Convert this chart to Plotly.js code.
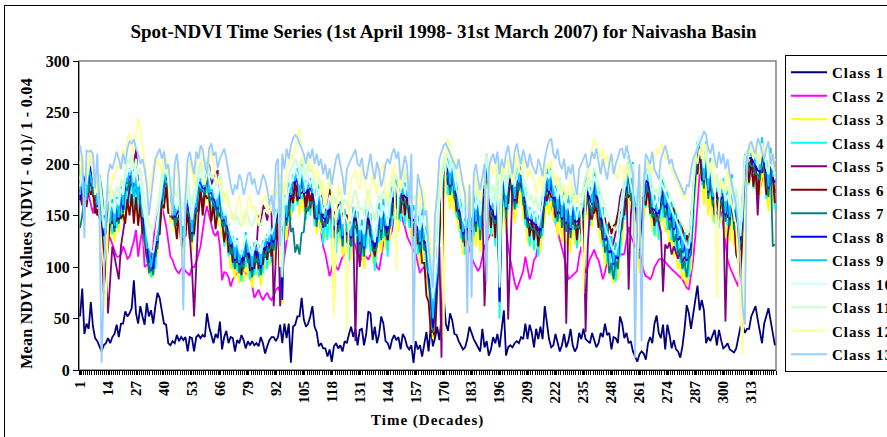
<!DOCTYPE html>
<html><head><meta charset="utf-8">
<script src="https://cdn.plot.ly/plotly-3.0.1.min.js"></script>
<style>
html,body{margin:0;padding:0;background:#fff;overflow:hidden;}
#wrap{position:relative;width:887px;height:437px;overflow:hidden;}
#chart{position:absolute;left:0;top:0;width:887px;height:437px;}
#frame{position:absolute;left:4px;top:5px;width:1000px;height:1000px;border:1px solid #000;pointer-events:none;}
.legendtext{letter-spacing:1px;}
</style></head>
<body><div id="wrap"><div id="chart"></div><div id="frame"></div></div>
<script>
const seriesNames = ['Class 1','Class 2','Class 3','Class 4','Class 5','Class 6','Class 7','Class 8','Class 9','Class 10','Class 11','Class 12','Class 13'];
const seriesColors = ['#000080','#FF00FF','#FFFF00','#00FFFF','#800080','#800000','#008080','#0000FF','#00CCFF','#CCFFFF','#CCFFCC','#FFFF99','#99CCFF'];
const tickLabels = ['1','14','27','40','53','66','79','92','105','118','131','144','157','170','183','196','209','222','235','248','261','274','287','300','313'];

const class1 = [
52,79,35,45,40,66,42,31,28,23,18,24,26,31,26,32,35,44,
32,45,45,57,52,55,60,87,55,45,62,52,44,65,52,58,45,62,
75,70,58,45,44,26,24,28,26,34,28,32,29,32,18,32,31,18,
32,34,31,34,32,55,42,35,26,35,31,47,20,32,38,26,32,31,
18,29,26,34,29,21,28,24,28,24,26,23,32,26,16,23,29,32,
32,28,32,44,26,45,31,45,7,42,44,52,52,70,49,42,45,52,
62,42,37,23,26,21,21,13,20,8,23,26,21,24,18,28,26,35,
42,32,40,24,39,40,24,35,57,55,29,42,26,35,52,45,28,26,
20,29,34,29,32,20,35,31,23,20,24,7,28,20,24,13,26,37,
18,42,23,31,42,29,50,72,45,38,55,48,35,34,28,24,20,22,
30,42,35,30,26,22,18,40,22,28,14,20,32,26,35,22,40,58,
14,22,24,22,26,28,26,32,30,45,30,44,36,22,40,30,42,30,
62,45,30,22,24,35,26,18,24,35,22,28,40,24,18,22,36,30,
40,30,28,26,36,30,22,26,36,32,45,34,36,20,32,31,26,52,
45,31,36,26,28,18,13,8,15,18,16,10,26,32,26,45,53,36,
31,44,20,44,34,21,29,20,18,12,23,40,63,55,40,52,68,82,
58,68,58,26,32,28,34,39,24,39,29,21,23,26,20,18,17,21,
32,42,44,36,40,40,52,58,62,49,36,26,45,52,60,48,35,24];

const class2 = [
175,170,168,176,170,160,152,165,170,168,160,150,140,135,128,122,115,110,
110,112,120,115,108,110,118,125,136,110,125,136,100,102,104,108,120,145,
155,165,160,150,140,125,110,107,100,96,94,98,100,96,94,92,100,100,
105,112,120,135,150,159,150,140,133,130,135,120,87,95,94,90,81,88,
91,95,98,100,96,94,92,94,82,70,74,78,72,68,72,75,70,68,
72,78,80,76,95,113,125,136,150,162,170,178,184,176,170,165,172,168,
170,165,159,150,135,120,113,100,91,98,107,100,97,104,110,112,118,125,
133,128,120,112,104,110,113,110,107,112,117,108,100,97,110,123,128,130,
130,135,150,170,181,160,145,139,130,125,120,116,113,104,94,98,100,92,
85,78,32,60,110,146,165,175,188,180,170,176,168,160,150,145,140,133,
125,118,110,104,100,96,100,110,120,124,128,133,130,135,139,145,150,162,
140,120,107,95,85,78,84,91,96,110,100,88,95,107,110,130,150,165,
165,170,168,160,150,142,135,128,120,110,100,88,90,92,94,96,110,120,
105,94,100,108,112,117,110,107,98,88,95,105,120,115,108,110,112,113,
112,113,125,139,130,124,120,122,118,105,96,91,90,88,92,100,104,107,
108,107,105,102,100,98,96,94,92,91,88,84,80,78,95,107,130,160,
190,205,200,180,172,165,160,156,152,150,154,140,125,107,100,95,90,85,
81,120,170,190,200,195,190,185,195,180,175,185,190,180,176,178,172,170];

const class3 = [
185,200,170,166,194,196,164,156,159,146,124,116,114,151,129,146,124,154,
134,161,144,171,169,178,176,168,170,164,160,148,120,116,92,100,90,112,
112,146,152,176,170,170,142,162,134,138,140,132,106,140,144,138,116,142,
144,170,166,164,160,182,156,158,152,146,140,162,128,130,122,118,98,104,
88,104,84,94,86,106,90,96,80,98,92,98,82,102,98,106,102,110,
104,126,130,156,64,146,126,154,148,166,164,170,150,178,154,156,158,162,
154,152,132,156,134,132,128,136,138,140,52,126,124,140,110,130,114,114,
108,130,126,126,102,118,98,128,126,124,104,104,110,134,114,138,118,118,
126,148,148,156,134,153,150,150,146,146,126,128,122,120,102,128,104,106,
70,62,30,56,70,136,144,172,170,176,156,178,152,152,134,136,112,118,
114,136,112,138,120,146,114,154,154,184,146,136,134,126,159,52,144,168,
134,162,164,168,142,164,160,180,146,146,124,126,122,122,120,116,114,136,
146,166,150,170,144,148,130,154,124,146,120,138,114,142,122,124,124,130,
134,156,150,146,139,164,146,146,124,124,102,108,92,98,84,94,88,116,
124,152,154,178,150,172,134,136,94,146,146,164,160,156,134,136,130,132,
144,152,134,140,122,128,110,116,98,104,88,96,82,92,98,144,170,196,
194,186,160,196,150,176,144,148,150,144,144,152,128,146,124,158,120,144,
114,106,124,182,180,186,184,182,176,174,170,198,178,172,154,186,164,162];

const class4 = [
168,160,194,162,186,176,184,152,166,156,150,110,140,146,148,132,142,138,
150,146,160,156,186,162,192,150,186,148,176,132,138,104,110,90,104,98,
130,132,170,164,190,156,160,150,152,128,160,120,130,130,166,126,136,130,
162,156,186,150,180,172,176,146,170,136,160,152,150,120,146,110,124,100,
110,96,106,86,110,100,116,88,101,92,116,90,103,94,121,98,126,104,
128,118,156,146,76,136,150,144,172,154,186,160,170,166,176,146,180,150,
176,140,150,146,156,122,150,126,160,128,140,114,146,128,132,118,136,106,
132,120,150,116,126,110,122,118,150,114,128,96,132,124,138,128,142,110,
150,140,172,146,158,144,175,140,170,138,150,120,146,112,126,118,128,98,
96,50,45,44,92,130,172,166,196,170,182,172,178,148,158,128,136,112,
140,128,138,130,146,140,140,150,180,178,172,130,160,120,185,50,170,160,
160,156,190,162,168,158,186,174,172,140,150,120,148,116,146,110,140,130,
172,160,176,164,170,142,156,148,150,140,146,132,140,136,148,118,150,124,
160,150,176,140,165,158,172,140,150,120,130,104,118,92,106,86,112,110,
150,146,180,172,176,166,160,130,120,140,172,158,186,150,160,130,156,126,
172,148,162,136,150,126,140,116,130,104,118,96,110,90,126,140,196,190,
220,180,186,190,176,170,170,142,176,138,170,146,154,140,150,152,146,138,
140,100,150,176,206,180,210,176,202,168,196,192,204,166,180,180,190,156];

const class5 = [
170,160,175,165,178,182,170,158,150,160,140,110,95,55,90,120,110,100,
88,120,135,150,165,175,190,200,215,180,160,140,125,110,100,96,105,115,
130,150,165,178,185,170,155,160,145,140,150,130,120,140,158,130,100,52,
110,150,172,160,175,195,200,180,185,190,194,170,150,140,150,132,128,120,
112,118,108,104,112,122,118,108,102,110,118,150,140,160,155,145,158,150,
62,110,150,62,100,150,145,160,168,170,180,176,168,185,172,162,176,166,
172,158,148,162,152,138,146,142,156,146,136,132,142,146,128,136,132,122,
128,138,28,130,100,126,118,136,146,132,124,110,128,142,134,146,138,126,
146,156,168,164,154,160,170,158,166,154,146,136,142,128,122,136,124,114,
90,64,40,56,88,120,12,170,192,186,178,188,174,160,154,144,132,126,
136,146,134,148,142,156,136,164,62,120,170,146,156,136,180,140,160,172,
170,49,120,178,164,174,182,190,168,156,146,136,144,132,142,126,136,146,
168,176,172,180,166,158,152,164,146,156,45,148,136,152,144,134,146,140,
156,37,120,156,146,160,170,160,150,140,132,126,130,118,124,134,152,168,
176,168,182,78,150,172,166,146,116,156,168,174,182,166,156,146,152,142,
134,76,122,118,124,112,120,114,108,116,104,110,106,122,146,176,192,206,
216,196,182,206,172,186,166,158,172,154,166,162,47,130,146,168,142,154,
136,116,146,192,202,196,206,192,198,150,192,208,200,182,176,196,186,172];

const class6 = [
175,164,186,158,178,170,176,152,156,148,136,74,101,120,146,142,151,144,
154,147,151,142,166,150,171,142,168,140,161,132,136,110,118,102,114,110,
131,132,161,157,178,152,154,147,146,127,151,122,128,130,156,127,134,132,
156,154,176,150,171,167,168,144,161,137,154,150,146,124,142,114,124,104,
114,104,110,92,114,110,120,96,106,98,118,98,108,102,124,107,126,110,
130,127,156,152,91,142,151,150,171,162,184,164,171,172,174,152,178,157,
174,147,156,152,171,150,156,154,176,148,154,142,161,152,152,142,151,128,
144,138,158,132,136,124,132,134,156,130,136,112,140,138,146,142,150,126,
156,150,174,157,162,152,176,150,171,147,154,130,150,122,128,104,104,72,
66,37,38,32,76,132,171,174,201,180,186,180,181,154,161,137,141,120,
141,137,140,140,148,147,142,154,181,184,174,138,162,128,184,67,171,168,
161,162,188,168,168,162,184,178,172,147,151,130,150,126,148,120,142,138,
171,164,174,168,168,148,156,152,151,147,146,138,142,142,148,126,151,132,
160,154,174,146,156,152,160,138,146,126,148,128,144,132,140,142,152,152,
156,150,174,168,170,162,156,134,126,142,166,160,178,152,156,140,164,162,
181,160,171,152,162,142,158,138,146,137,141,120,131,122,151,162,196,190,
216,184,186,192,176,176,170,150,176,146,170,152,156,148,152,157,146,112,
106,90,136,174,201,182,206,178,198,170,192,192,200,170,178,182,188,162];

const class7 = [
138,150,168,192,172,196,170,176,164,190,176,158,134,166,144,154,134,158,
142,168,152,178,174,184,180,176,174,168,164,154,124,120,94,104,92,118,
118,156,160,184,180,178,148,172,140,148,146,142,118,152,154,148,124,152,
152,178,174,174,170,194,164,168,160,158,148,174,139,144,134,132,112,120,
98,118,94,104,98,122,104,108,90,112,104,110,92,114,109,120,114,124,
116,142,144,170,114,158,140,166,134,138,114,122,112,133,134,158,154,163,
162,162,139,168,144,144,139,148,148,152,128,138,134,153,120,142,124,128,
120,144,138,140,114,132,110,142,138,138,116,116,120,148,126,152,130,132,
138,162,160,170,146,167,162,164,158,160,138,142,134,134,114,142,116,120,
84,74,36,64,82,154,162,188,184,192,170,194,166,168,146,150,124,132,
126,150,124,154,134,162,126,170,170,202,160,150,148,142,174,78,158,184,
148,178,178,184,156,180,174,196,160,162,138,142,136,138,134,132,128,152,
160,186,179,188,158,164,144,170,138,162,134,154,128,158,136,140,138,146,
146,170,162,160,150,178,158,160,136,138,114,122,94,104,88,106,98,132,
138,168,168,194,164,188,148,152,108,162,160,180,174,172,148,152,144,148,
160,168,148,156,136,144,124,132,112,118,98,106,90,108,112,158,184,212,
208,204,176,214,166,194,160,166,166,162,160,170,144,164,140,176,136,162,
128,122,138,198,194,202,198,198,190,190,184,214,192,188,168,202,120,122];

const class8 = [
165,184,188,180,182,200,178,176,158,180,146,130,134,168,144,158,138,162,
146,172,156,182,182,188,188,178,182,174,172,158,134,128,104,110,98,122,
124,158,166,188,186,182,156,176,148,152,156,146,126,156,162,152,132,156,
158,182,182,176,176,198,172,172,166,162,156,178,146,146,142,136,120,124,
106,122,102,108,106,127,112,112,97,116,112,114,99,118,117,124,122,128,
124,146,152,174,68,164,146,172,168,182,182,186,166,194,172,172,176,176,
172,166,146,172,152,148,146,152,156,156,136,142,142,156,128,146,132,132,
128,148,146,144,122,136,118,146,146,142,124,120,128,152,134,156,138,136,
146,166,168,174,154,171,171,168,166,164,146,146,142,138,122,146,124,124,
92,76,41,66,88,156,168,192,192,196,178,198,174,171,154,154,132,136,
136,156,134,158,142,166,136,174,176,204,168,156,156,146,181,66,166,188,
156,182,186,188,164,184,182,200,168,166,146,146,144,142,142,136,136,156,
168,186,172,190,166,168,152,174,146,166,142,158,136,162,144,144,146,150,
156,176,172,166,161,184,168,166,146,146,126,128,114,116,102,110,108,136,
146,172,176,198,172,192,156,156,116,166,168,184,182,176,156,156,152,152,
168,174,158,162,146,152,136,142,126,130,114,120,106,114,122,166,192,216,
216,206,182,216,172,196,166,168,172,164,166,172,150,166,146,178,142,164,
136,126,146,202,202,206,206,202,198,194,192,218,200,192,176,206,186,182];

const class9 = [
170,190,180,165,196,186,178,182,160,188,148,138,132,175,142,166,140,168,
148,178,160,188,182,196,188,168,190,165,186,150,148,118,120,100,112,126,
126,162,168,192,182,184,158,178,150,160,156,150,128,162,164,158,134,160,
158,188,184,180,178,202,172,178,168,168,158,184,146,152,142,142,122,130,
108,128,104,116,110,134,114,120,100,124,116,122,102,126,120,132,124,138,
126,156,152,180,90,170,148,182,170,190,184,196,168,200,172,184,176,186,
172,176,148,180,152,160,148,162,158,166,140,150,146,164,130,156,134,144,
130,158,148,154,124,146,120,156,148,152,126,130,130,162,136,166,140,148,
148,178,168,186,154,180,170,182,168,176,148,160,140,150,124,158,126,140,
96,88,50,80,96,168,168,200,192,206,180,204,174,182,156,166,134,148,
138,168,136,170,144,178,136,184,176,210,168,166,156,158,184,84,168,198,
158,192,186,198,166,196,182,208,168,178,148,158,146,154,142,150,138,168,
170,196,174,200,168,180,154,186,148,178,144,170,138,174,146,158,148,162,
158,188,174,178,162,196,170,178,148,158,128,142,116,130,104,124,110,150,
148,184,178,208,172,202,158,170,118,180,170,196,184,190,158,170,154,166,
170,186,160,174,148,164,138,156,128,144,116,134,108,128,124,180,194,222,
218,214,184,222,174,206,168,180,174,176,168,186,152,178,148,190,144,176,
138,140,148,210,204,216,208,212,200,206,194,226,202,204,178,216,188,190];

const class10 = [
178,188,200,185,194,204,190,180,172,184,160,138,150,172,158,162,152,166,
160,176,170,186,196,192,200,182,196,178,186,162,148,132,120,116,114,128,
140,162,180,192,198,186,170,180,162,156,170,150,140,160,176,156,146,160,
172,186,196,180,190,200,186,176,180,166,170,182,160,150,156,140,134,128,
120,126,116,112,120,131,126,116,111,120,126,118,113,122,131,128,136,132,
138,150,166,178,90,168,160,176,182,186,196,190,180,198,186,176,190,180,
186,170,160,176,166,152,160,156,170,160,150,146,156,160,142,150,146,136,
142,152,160,148,136,140,132,150,160,146,138,124,142,156,148,160,152,140,
160,170,182,178,168,175,185,172,180,168,160,150,156,142,136,150,138,128,
110,90,70,85,110,162,182,196,206,200,192,202,188,175,168,158,146,140,
150,160,148,162,156,170,150,178,190,206,182,160,170,150,194,80,180,192,
170,186,200,192,178,188,196,204,182,170,160,150,158,146,156,140,150,160,
182,190,186,194,180,172,166,178,160,170,156,162,150,166,158,148,160,154,
170,180,186,170,175,188,182,170,160,150,140,132,128,120,116,114,122,140,
160,176,190,200,186,196,170,160,130,170,182,188,196,180,170,160,166,156,
182,178,172,166,160,156,150,146,140,134,128,124,120,118,136,170,206,220,
228,210,196,220,186,200,180,172,186,168,180,176,164,170,160,182,156,168,
150,130,160,205,214,210,218,206,212,198,206,220,214,196,190,210,200,186];

const class11 = [
185,195,200,190,198,205,196,185,180,190,170,150,160,180,170,175,165,178,
170,185,180,195,205,200,210,195,205,190,196,178,165,150,140,138,135,148,
155,175,190,198,205,195,180,188,172,168,180,165,155,170,185,170,160,172,
182,195,202,190,198,206,195,186,190,178,182,192,175,168,172,160,155,150,
145,150,142,140,146,155,150,142,140,146,152,145,140,148,156,152,160,156,
160,170,180,190,140,182,176,188,195,198,205,200,192,206,196,188,200,192,
196,182,175,188,180,168,175,170,182,175,168,162,170,175,160,166,162,155,
158,168,175,165,155,158,150,165,175,162,155,145,158,170,165,175,168,158,
175,182,192,188,180,186,195,184,190,180,172,165,170,158,150,162,152,145,
130,110,100,120,140,178,192,205,212,208,200,208,196,185,178,170,160,155,
162,172,160,174,168,180,165,186,196,210,190,172,180,165,200,120,188,198,
180,195,206,200,188,196,202,208,190,180,172,165,170,160,168,155,165,172,
190,198,195,200,188,182,176,186,172,180,168,174,165,178,170,162,172,168,
180,188,195,180,185,196,190,180,172,165,158,150,146,140,138,136,142,158,
175,186,198,206,192,200,180,172,150,178,190,196,202,188,180,172,176,168,
190,186,180,175,170,166,160,156,150,146,140,136,135,134,150,180,206,215,
224,210,198,218,190,202,186,180,190,176,186,182,172,178,168,186,165,176,
160,145,168,206,214,210,218,206,212,200,206,218,212,198,192,210,200,190];

const class12 = [
200,210,195,180,205,215,190,170,185,150,120,100,60,140,170,190,185,200,
195,205,215,200,225,230,215,210,230,245,235,220,205,190,170,185,200,195,
205,200,190,215,205,185,150,170,200,195,175,120,100,160,190,205,195,180,
200,210,215,195,180,190,205,215,200,190,180,185,170,160,175,165,150,145,
150,160,170,155,140,150,165,170,155,160,150,140,155,165,170,160,150,165,
175,185,190,100,180,170,195,200,210,205,215,225,235,215,200,205,210,195,
200,185,195,190,170,185,160,175,190,195,52,150,180,170,165,140,37,160,
185,190,195,180,175,200,185,170,160,175,190,180,170,185,195,200,175,165,
180,190,200,96,185,175,200,190,185,170,195,28,150,175,160,180,170,150,
140,120,110,150,175,200,185,31,220,225,215,210,200,205,190,185,175,180,
160,175,150,185,190,170,165,180,195,160,185,200,190,195,205,185,200,190,
200,205,195,180,200,210,195,190,205,200,185,195,190,185,170,180,190,175,
190,200,195,205,185,180,190,175,170,180,165,175,185,170,160,175,165,150,
74,170,185,205,215,225,220,212,205,215,200,210,195,200,205,190,185,200,
195,185,200,190,180,170,140,100,150,175,190,205,195,200,190,205,215,210,
220,215,205,210,200,195,190,185,180,175,170,165,175,180,190,205,210,200,
215,205,220,210,200,195,205,190,70,160,185,175,180,195,170,160,150,140,
100,60,15,150,200,210,215,205,220,210,200,215,205,220,210,200,195,205];

const class13 = [
218,205,128,213,212,213,210,176,210,150,7,80,150,190,200,195,205,212,
205,195,210,200,215,222,220,224,215,210,200,205,195,180,150,170,190,205,
210,215,205,212,195,200,180,150,200,210,190,140,58,170,205,212,200,190,
212,205,218,214,200,190,215,220,208,212,196,205,210,215,205,190,180,170,
180,175,190,185,170,178,190,192,180,186,175,170,180,190,185,176,160,170,
150,200,205,120,210,195,215,205,218,225,228,226,220,215,210,200,212,205,
215,200,210,198,205,190,200,185,196,180,192,205,210,200,188,170,195,200,
205,210,214,200,198,206,190,185,200,210,195,185,202,194,178,186,200,205,
200,210,215,205,212,185,195,208,198,160,210,26,150,190,180,170,150,155,
120,100,80,150,170,205,212,218,220,215,210,206,200,195,205,190,180,170,
55,180,70,190,200,185,175,188,200,86,195,205,210,200,212,190,205,196,
210,218,205,190,212,220,208,200,214,205,196,210,200,195,190,205,198,188,
205,215,222,225,210,205,215,200,195,205,185,198,190,200,180,170,195,200,
205,210,196,200,212,205,215,200,190,205,195,185,200,210,190,200,206,214,
215,205,218,210,200,190,12,160,200,28,180,210,205,200,212,195,190,185,
205,212,218,210,200,205,195,190,185,180,175,170,180,178,195,205,210,215,
220,225,232,228,215,210,220,205,196,212,200,210,195,205,190,180,170,160,
140,100,60,44,205,218,222,215,210,225,220,212,205,215,222,200,210,195];

const allSeries = [class1,class2,class3,class4,class5,class6,class7,class8,class9,class10,class11,class12,class13];
const tickVals = tickLabels.map(Number);

const FONT = '"Liberation Serif", "Times New Roman", serif';
const traces = allSeries.map((vals, k) => ({
  type: 'scatter', mode: 'lines',
  x: vals.map((v, i) => i + 1), y: vals,
  name: seriesNames[k], legendgroup: 'g' + k,
  line: {color: seriesColors[k], width: 1.8},
  hoverinfo: 'skip'
}));

const layout = {
  width: 887, height: 437,
  margin: {l: 79, r: 111, t: 61, b: 67, autoexpand: false},
  paper_bgcolor: '#fff', plot_bgcolor: '#fff',
  showlegend: true,
  title: {text: 'Spot-NDVI Time Series (1st April 1998- 31st March 2007) for Naivasha Basin',
    font: {family: FONT, size: 19, weight: 'bold', color: '#000'},
    x: 0.5, xref: 'container', xanchor: 'center', y: 1 - 31/437, yref: 'container', yanchor: 'middle'},
  xaxis: {
    range: [0.5, 324.5], tickmode: 'array', tickvals: tickVals, ticktext: tickLabels,
    tickangle: -90, ticks: 'outside', ticklen: 4, tickcolor: '#000', tickwidth: 1,
    showline: true, linecolor: '#000', linewidth: 1, showgrid: false, zeroline: false,
    tickfont: {family: FONT, size: 15, weight: 'bold', color: '#000'},
    minor: {tickmode: 'linear', tick0: 0.5, dtick: 1, ticks: 'outside', ticklen: 4, tickcolor: '#000', tickwidth: 1, showgrid: false}
  },
  yaxis: {
    range: [0, 300], tickmode: 'linear', tick0: 0, dtick: 50,
    ticks: 'outside', ticklen: 5, tickcolor: '#000', tickwidth: 1,
    showline: true, linecolor: '#000', linewidth: 1, showgrid: false, zeroline: false,
    tickfont: {family: FONT, size: 16, weight: 'bold', color: '#000'}
  },
  annotations: [
    {text: 'Time (Decades)', xref: 'paper', yref: 'paper', x: 0.5, y: (370 - 420) / 309,
     xanchor: 'center', yanchor: 'middle', showarrow: false,
     font: {family: FONT, size: 15, weight: 'bold', color: '#000'}},
    {text: 'Mean NDVI Values (NDVI - 0.1)/ 1 - 0.04', xref: 'paper', yref: 'paper',
     x: (27 - 79) / 697, y: (370 - 224) / 309, xanchor: 'center', yanchor: 'middle',
     textangle: -90, showarrow: false,
     font: {family: FONT, size: 16, weight: 'bold', color: '#000'}}
  ],
  legend: {
    x: (785 - 79) / 697, xanchor: 'left', y: (370 - 55) / 309, yanchor: 'top',
    bordercolor: '#000', borderwidth: 1, bgcolor: '#fff',
    font: {family: FONT, size: 15, weight: 'bold', color: '#000'},
    traceorder: 'grouped', tracegroupgap: 1, itemwidth: 36, maxheight: 340
  },
  shapes: [{type: 'rect', xref: 'paper', yref: 'paper', x0: 0, x1: 1, y0: 0, y1: 1,
    line: {color: '#808080', width: 1.5}, layer: 'below'}]
};

Plotly.newPlot('chart', traces, layout, {staticPlot: true, displayModeBar: false}).then(() => {
  const anns = document.querySelectorAll('.annotation-text');
  if (anns[0]) anns[0].style.letterSpacing = '1px';
  if (anns[1]) anns[1].style.letterSpacing = '0.3px';
});
</script></body></html>
